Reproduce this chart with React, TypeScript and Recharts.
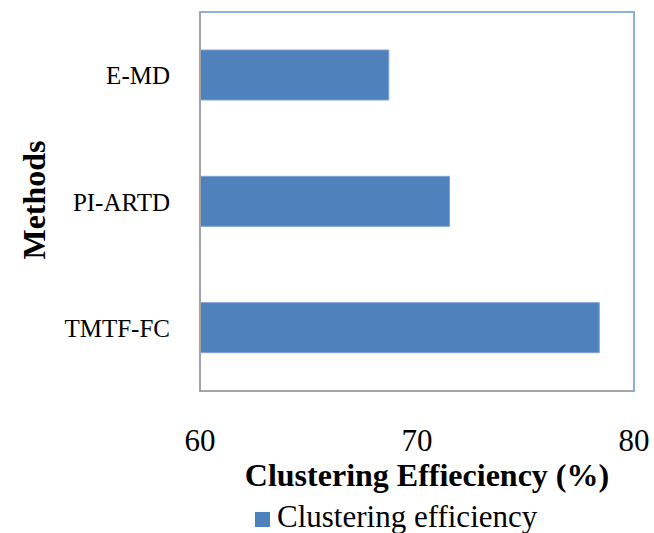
import { BarChart, Bar, XAxis, YAxis, Legend, ReferenceArea } from "recharts";

const methods = ["E-MD", "PI-ARTD", "TMTF-FC"];
const efficiency = [68.7, 71.5, 78.4];
const xTicks = [60, 70, 80];

const data = methods.map((name, i) => ({ name, efficiency: efficiency[i] }));

const serif = "'Liberation Serif', 'Times New Roman', serif";
const barBlue = "#4f81bd";
const frameBlue = "#8cb0dc";
const frameGray = "#a3a3a3";

function MethodTick({ x, y, payload }: any) {
  return (
    <text x={x - 30} y={y + 9} textAnchor="end" fontFamily={serif} fontSize={25} fill="#000">
      {payload.value}
    </text>
  );
}

function ValueTick({ x, y, payload }: any) {
  return (
    <text x={x} y={y + 60} textAnchor="middle" fontFamily={serif} fontSize={31} fill="#000">
      {payload.value}
    </text>
  );
}

function LegendBox() {
  return (
    <div style={{ display: "flex", alignItems: "center", paddingLeft: 255, height: 32, fontFamily: serif }}>
      <span style={{ width: 15, height: 15, background: barBlue, marginRight: 7, marginTop: 4 }} />
      <span style={{ fontSize: 31, lineHeight: "32px", marginTop: 0, color: "#000", whiteSpace: "nowrap" }}>
        Clustering efficiency
      </span>
    </div>
  );
}

export default function App() {
  return (
    <div style={{ position: "absolute", left: 0, top: 0, background: "#fff" }}>
      <BarChart
        width={654}
        height={533}
        data={data}
        layout="vertical"
        margin={{ top: 12, right: 20, left: 0, bottom: 0 }}
        barSize={50}
      >
        {/* plot frame: blue on top/right, the gray axes cover left/bottom */}
        <ReferenceArea x1={60} x2={80} fill="none" stroke={frameBlue} strokeWidth={2} fillOpacity={0} />
        <XAxis
          type="number"
          domain={[60, 80]}
          ticks={xTicks}
          height={110}
          tickSize={0}
          tickMargin={0}
          tick={<ValueTick />}
          axisLine={{ stroke: frameGray, strokeWidth: 2 }}
          label={() => (
            <text x={427} y={486} textAnchor="middle" fontFamily={serif} fontSize={32} fontWeight="bold" fill="#000">
              Clustering Effieciency (%)
            </text>
          )}
        />
        <YAxis
          type="category"
          dataKey="name"
          width={200}
          tickSize={0}
          tickMargin={0}
          tick={<MethodTick />}
          axisLine={{ stroke: frameGray, strokeWidth: 2 }}
          label={() => (
            <text
              x={45}
              y={200}
              transform="rotate(-90, 45, 200)"
              textAnchor="middle"
              fontFamily={serif}
              fontSize={32}
              fontWeight="bold"
              fill="#000"
            >
              Methods
            </text>
          )}
        />
        <Legend verticalAlign="bottom" align="left" height={32} content={<LegendBox />} />
        <Bar dataKey="efficiency" fill={barBlue} stroke="#7ea3d2" strokeWidth={1} isAnimationActive={false} />
      </BarChart>
    </div>
  );
}
